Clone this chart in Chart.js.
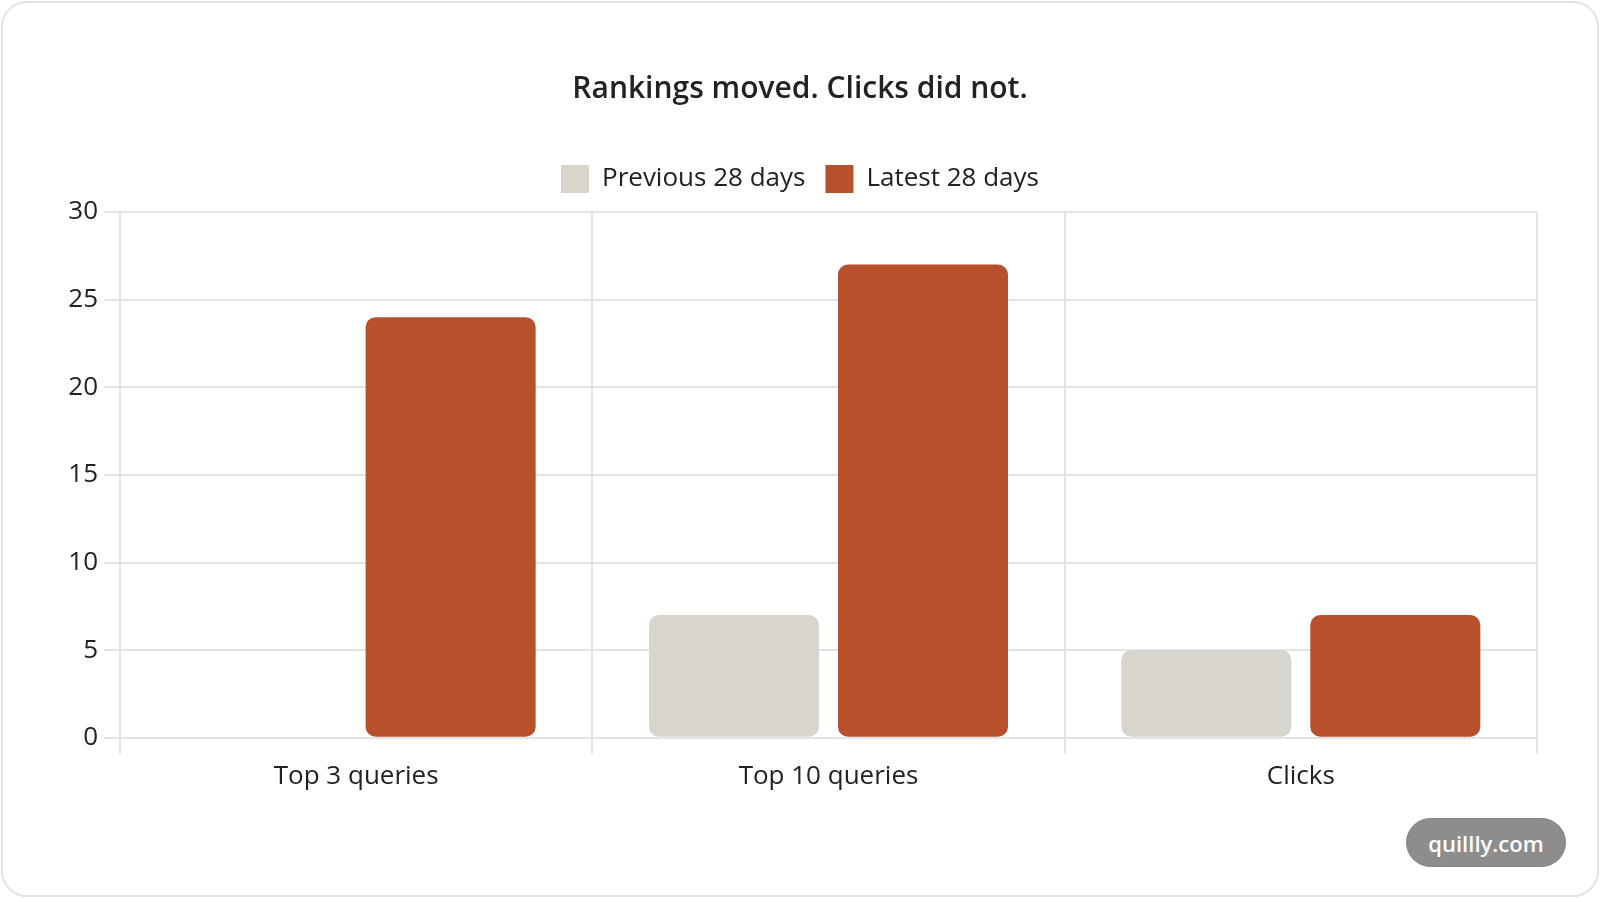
<!DOCTYPE html>
<html>
<head>
<meta charset="utf-8">
<script src="https://cdn.jsdelivr.net/npm/chart.js@4.4.1/dist/chart.umd.min.js"></script>
<style>
  html, body { margin: 0; padding: 0; background: #ffffff; }
  body { width: 1600px; height: 898px; position: relative; overflow: hidden; font-family: "Open Sans", sans-serif; }
  .card { position: absolute; left: 1px; top: 1px; width: 1598px; height: 896px; box-sizing: border-box;
          border: 2px solid #e4e4e4; border-radius: 26px; background: #fff; }
  .wrap { position: absolute; left: 0; top: 0; width: 1600px; height: 898px; }
  .badge { position: absolute; left: 1406px; top: 818px; width: 160px; height: 49px; border-radius: 25px;
           background: #8d8d8d; color: #fff; font: 600 22px "Open Sans", sans-serif; line-height: 49px;
           text-align: center; box-sizing: border-box; border: 1px solid #858585; }
</style>
</head>
<body>
<div class="card"></div>
<div class="wrap"><canvas id="c" width="1600" height="898"></canvas></div>
<div class="badge">quillly.com</div>
<script>
const chartTitle = "Rankings moved. Clicks did not.";
const categories = ["Top 3 queries", "Top 10 queries", "Clicks"];
const previousLabel = "Previous 28 days";
const latestLabel = "Latest 28 days";
const previousValues = [0, 7, 5];
const latestValues = [24, 27, 7];
const yMin = 0, yMax = 30, yStep = 5;

const textColor = "#222222";
const gridColor = "#e3e3e3";

const legendGap = {
  id: "legendGap",
  beforeInit(chart) {
    const orig = chart.legend.fit;
    chart.legend.fit = function () { orig.call(this); this.height += 9; };
  }
};

new Chart(document.getElementById("c"), {
  type: "bar",
  data: {
    labels: categories,
    datasets: [
      { label: previousLabel, data: previousValues, backgroundColor: "#d8d5cc", borderRadius: 10, borderSkipped: false },
      { label: latestLabel, data: latestValues, backgroundColor: "#b8502c", borderRadius: 10, borderSkipped: false }
    ]
  },
  plugins: [legendGap],
  options: {
    responsive: false,
    animation: false,
    devicePixelRatio: 1,
    categoryPercentage: 0.8,
    barPercentage: 0.9,
    layout: { padding: { left: 63, right: 63, top: 0, bottom: 99 } },
    plugins: {
      title: {
        display: true, text: chartTitle, color: textColor,
        font: { family: "Open Sans", size: 30, weight: "600" },
        padding: { top: 71, bottom: 38 }
      },
      legend: {
        display: true,
        labels: {
          color: textColor, boxWidth: 28, boxHeight: 28, padding: 20,
          font: { family: "Open Sans", size: 26 }
        }
      },
      tooltip: { enabled: false }
    },
    scales: {
      x: {
        grid: { color: gridColor, lineWidth: 2, tickLength: 16, offset: true },
        border: { color: gridColor, width: 2 },
        ticks: { color: textColor, padding: 7, font: { family: "Open Sans", size: 26 } }
      },
      y: {
        min: yMin, max: yMax,
        afterFit(scale) { scale.width = 57; },
        grid: { color: gridColor, lineWidth: 2, tickLength: 16 },
        border: { color: gridColor, width: 2 },
        ticks: { stepSize: yStep, color: textColor, padding: 6, font: { family: "Open Sans", size: 26 } }
      }
    }
  }
});
</script>
</body>
</html>
